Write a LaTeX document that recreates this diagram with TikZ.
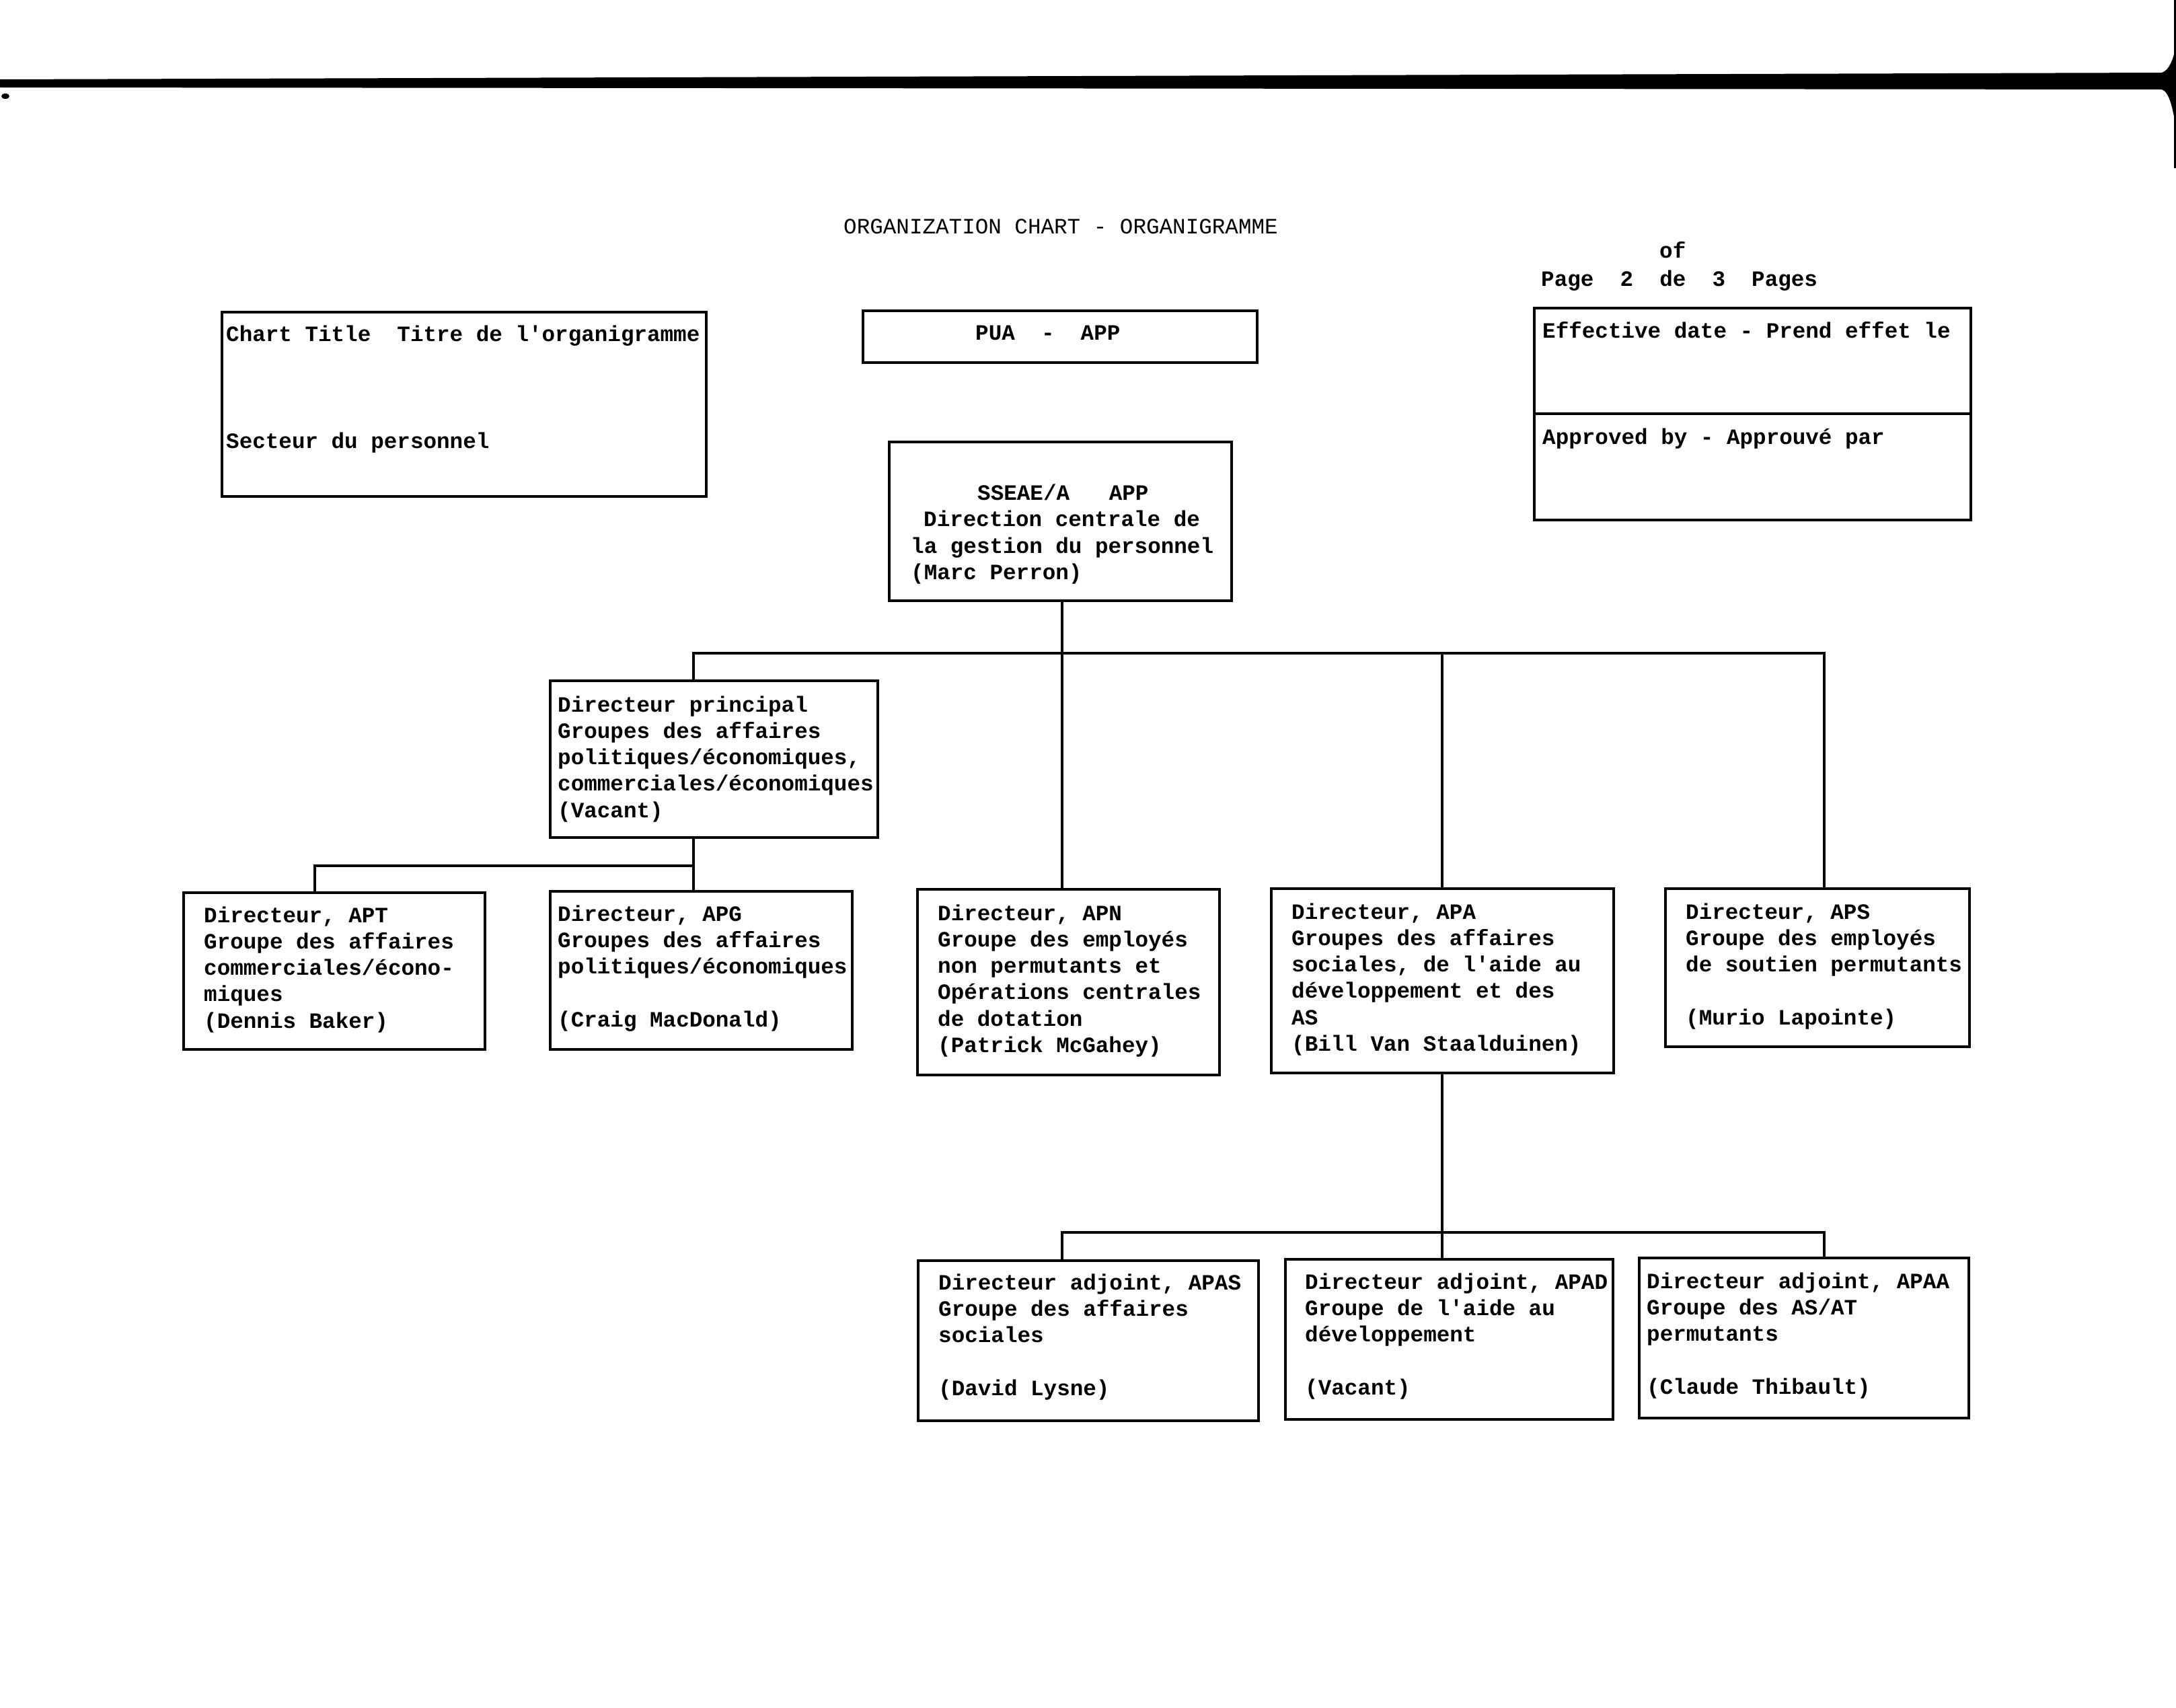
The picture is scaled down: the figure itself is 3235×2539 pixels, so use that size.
\documentclass[tikz,border=0pt]{standalone}
\usepackage{fontspec}
\setmainfont{Liberation Mono}
\newcommand\boxtext[4]{\foreach \mytext [count=\i from 0] in {#4} {\node[txt] (#1-\i) at (#2,{#3+\i*39.3}) {\mytext};}}
\begin{document}
\begin{tikzpicture}[x=1pt,y=-1pt,
  box/.style={draw, line width=4.5pt, anchor=north west, inner sep=0pt, outer sep=0pt},
  conn/.style={line width=4pt},
  txt/.style={anchor=base west, inner sep=0pt, font=\fontsize{32.6}{39.3}\selectfont\bfseries},
  titletxt/.style={anchor=base west, inner sep=0pt, font=\fontsize{32.6}{39.3}\selectfont}]
\fill[white] (0,0) rectangle (3235,2539);
\useasboundingbox (0,0) rectangle (3235,2539);
% scan edge
\fill (0,118) -- (3217,108) -- (3217,133) -- (0,130) -- cycle;
\fill (3214,108) .. controls (3225,104) and (3230,90) .. (3235,70) -- (3235,190) .. controls (3230,160) and (3225,137) .. (3214,133) -- cycle;
\draw[line width=3pt] (3233,0) -- (3233,250);
\fill (8,143) ellipse (6 and 4);
% header texts
\node[titletxt] (title) at (1254,347) {ORGANIZATION CHART - ORGANIGRAMME};
\node[txt] (of) at (2467,383) {of};
\node[txt] (page) at (2291,425) {Page~~2~~de~~3~~Pages};
% boxes
\node[box, minimum width=720pt, minimum height=274pt] (ct) at (330,464) {};
\node[box, minimum width=586pt, minimum height=77pt] (pua) at (1283,462) {};
\node[box, minimum width=649pt, minimum height=157pt] (eff1) at (2281,458) {};
\node[box, minimum width=649pt, minimum height=158pt] (eff2) at (2281,615) {};
\node[box, minimum width=509pt, minimum height=236pt] (sseae) at (1322,657) {};
\node[box, minimum width=487pt, minimum height=233pt] (dp) at (818,1012) {};
\node[box, minimum width=448pt, minimum height=233pt] (apt) at (273,1327) {};
\node[box, minimum width=449pt, minimum height=235pt] (apg) at (818,1325) {};
\node[box, minimum width=449pt, minimum height=276pt] (apn) at (1364,1322) {};
\node[box, minimum width=509pt, minimum height=274pt] (apa) at (1890,1321) {};
\node[box, minimum width=452pt, minimum height=235pt] (aps) at (2476,1321) {};
\node[box, minimum width=506pt, minimum height=238pt] (apas) at (1365,1874) {};
\node[box, minimum width=487pt, minimum height=238pt] (apad) at (1911,1872) {};
\node[box, minimum width=490pt, minimum height=238pt] (apaa) at (2437,1870) {};
% box texts
\node[txt] (ct-0) at (336,507) {Chart Title~~Titre de l\textquotesingle organigramme};
\node[txt] (ct-1) at (336,666) {Secteur du personnel};
\node[txt] (pua-0) at (1450,505) {PUA~~-~~APP};
\node[txt] (eff1-0) at (2293,502) {Effective date - Prend effet le};
\node[txt] (eff2-0) at (2293,660) {Approved by - Approuvé par};
\node[txt] (sseae-0) at (1453,743) {SSEAE/A~~~APP};
\node[txt] (sseae-1) at (1373,782.5) {Direction centrale de};
\node[txt] (sseae-2) at (1354,822) {la gestion du personnel};
\node[txt] (sseae-3) at (1354,861.5) {(Marc Perron)};
\boxtext{dp}{829}{1058}{{Directeur principal},{Groupes des affaires},{politiques/économiques,},{commerciales/économiques},{(Vacant)}}
\boxtext{apt}{303}{1371}{{Directeur, APT},{Groupe des affaires},{commerciales/écono-},{miques},{(Dennis Baker)}}
\boxtext{apg}{829}{1369}{{Directeur, APG},{Groupes des affaires},{politiques/économiques},{},{(Craig MacDonald)}}
\boxtext{apn}{1394}{1368}{{Directeur, APN},{Groupe des employés},{non permutants et},{Opérations centrales},{de dotation},{(Patrick McGahey)}}
\boxtext{apa}{1920}{1366}{{Directeur, APA},{Groupes des affaires},{sociales, de l\textquotesingle aide au},{développement et des},{AS},{(Bill Van Staalduinen)}}
\boxtext{aps}{2506}{1366}{{Directeur, APS},{Groupe des employés},{de soutien permutants},{},{(Murio Lapointe)}}
\boxtext{apas}{1395}{1917}{{Directeur adjoint, APAS},{Groupe des affaires},{sociales},{},{(David Lysne)}}
\boxtext{apad}{1940}{1916}{{Directeur adjoint, APAD},{Groupe de l\textquotesingle aide au},{développement},{},{(Vacant)}}
\boxtext{apaa}{2448}{1915}{{Directeur adjoint, APAA},{Groupe des AS/AT},{permutants},{},{(Claude Thibault)}}
% junctions
\coordinate (j0) at (1579,971);
\coordinate (jdp) at (1031,971);
\coordinate (japa) at (2144,971);
\coordinate (japs) at (2712,971);
\coordinate (kdp) at (1031,1287);
\coordinate (kapt) at (467.5,1287);
\coordinate (l1) at (1579,1832);
\coordinate (l2) at (2144,1832);
\coordinate (l3) at (2712,1832);
% connectors
\draw[conn] (j0 |- sseae.south) -- (j0 |- apn.north);
\draw[conn] (jdp |- dp.north) -- (jdp) -- (japs) -- (japs |- aps.north);
\draw[conn] (japa) -- (japa |- apa.north);
\draw[conn] (kdp |- dp.south) -- (kdp |- apg.north);
\draw[conn] (kdp) -- (kapt) -- (kapt |- apt.north);
\draw[conn] (l2 |- apa.south) -- (l2 |- apad.north);
\draw[conn] (l1 |- apas.north) -- (l1) -- (l3) -- (l3 |- apaa.north);
\end{tikzpicture}
\end{document}
